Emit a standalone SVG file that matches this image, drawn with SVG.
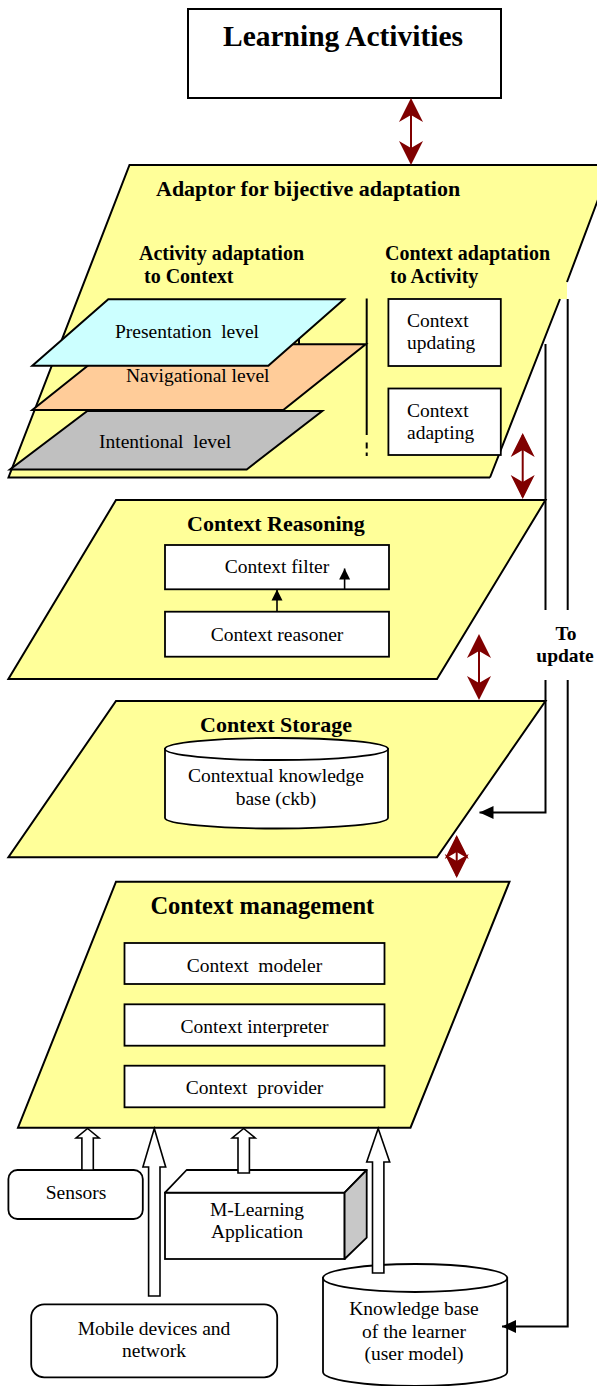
<svg xmlns="http://www.w3.org/2000/svg" width="597" height="1386" viewBox="0 0 597 1386">
<style>
.plane{fill:#FFFF99;stroke:none}
.edge{fill:none;stroke:#000;stroke-width:2}
.box{fill:#fff;stroke:#000;stroke-width:1.8}
.h{font-family:"Liberation Serif","Times New Roman",serif;font-weight:bold;fill:#000}
.t{font-family:"Liberation Serif","Times New Roman",serif;font-size:19.5px;fill:#000;white-space:pre}
.mid{text-anchor:middle}
.red{stroke:#800000;stroke-width:2;fill:none}
.ln{stroke:#000;stroke-width:2;fill:none}
.blk{stroke:#000;stroke-width:1.6;fill:none}
.barrow{fill:#fff;stroke:#000;stroke-width:1.6;stroke-linejoin:miter}
</style>
<defs>
<marker id="redHead" viewBox="-26 -13 28 26" refX="-2" refY="0" markerWidth="28" markerHeight="26" markerUnits="userSpaceOnUse" orient="auto-start-reverse">
<path d="M0,0 L-24,-12 L-17,0 L-24,12 Z" fill="#800000"/>
</marker>
<marker id="blkSmall" viewBox="-12 -6 13 12" refX="0" refY="0" markerWidth="13" markerHeight="12" markerUnits="userSpaceOnUse" orient="auto">
<path d="M0,0 L-11,-5.5 L-11,5.5 Z" fill="#000"/>
</marker>
<marker id="blkBig" viewBox="-15 -7 16 14" refX="0" refY="0" markerWidth="16" markerHeight="14" markerUnits="userSpaceOnUse" orient="auto">
<path d="M0,0 L-14,-6.5 L-14,6.5 Z" fill="#000"/>
</marker>
</defs>
<rect width="597" height="1386" fill="#fff"/>

<g id="learning-activities">
<rect x="188" y="9" width="313" height="89" fill="#fff" stroke="#000" stroke-width="2"/>
<text class="h" x="223" y="46" font-size="29.5">Learning Activities</text>
</g>

<g id="adaptor">
<polygon class="plane" points="8.5,477.5 129.5,165 611,165 567,282 567,299 560,299 490,477.5"/>
<path class="edge" d="M490,477.5 L8.5,477.5 L129.5,165 L611,165 L567,282 M560,299 L490,477.5"/>
<text class="h" x="156" y="196" font-size="22">Adaptor for bijective adaptation</text>
<text class="h" x="139" y="260" font-size="20">Activity adaptation</text>
<text class="h" x="144" y="283" font-size="20">to Context</text>
<text class="h" x="385" y="260" font-size="20">Context adaptation</text>
<text class="h" x="390" y="283" font-size="20">to Activity</text>
<line class="ln" x1="366.7" y1="298.5" x2="366.7" y2="435"/>
<line class="ln" x1="366.7" y1="442.5" x2="366.7" y2="448.5"/>
<line class="ln" x1="366.7" y1="452.5" x2="366.7" y2="456"/>
</g>

<g id="intentional-level">
<polygon points="87.3,411 322.3,411 246.7,469.5 10,469.5" fill="#C0C0C0" stroke="#000" stroke-width="2"/>
<text class="t" x="99" y="448">Intentional  level</text>
</g>
<g id="navigational-level">
<polygon points="114.7,344.3 365.7,344.3 283.3,410 32.3,410" fill="#FFCC99" stroke="#000" stroke-width="2"/>
<line class="ln" x1="299" y1="339" x2="299" y2="344.3"/>
<text class="t" x="126" y="382">Navigational level</text>
</g>
<g id="presentation-level">
<polygon points="108.3,299.3 344,299.3 268.3,365.7 32.3,365.7" fill="#CCFFFF" stroke="#000" stroke-width="2"/>
<text class="t" x="115" y="338">Presentation  level</text>
</g>

<g id="context-updating">
<rect class="box" x="388.4" y="299" width="112.4" height="67"/>
<text class="t" x="407" y="327">Context</text>
<text class="t" x="407" y="349">updating</text>
</g>
<g id="context-adapting">
<rect class="box" x="388.4" y="388.5" width="112.4" height="66.5"/>
<text class="t" x="407" y="417">Context</text>
<text class="t" x="407" y="439">adapting</text>
</g>

<g id="context-reasoning">
<polygon class="plane" points="116,500 545.5,500 437,679 8.4,679"/>
<polygon class="edge" points="116,500 545.5,500 437,679 8.4,679"/>
<text class="h" x="187" y="531" font-size="22">Context Reasoning</text>
</g>
<g id="context-filter">
<rect class="box" x="165" y="545" width="224" height="44.3"/>
<text class="t mid" x="277" y="573">Context filter</text>
</g>
<g id="context-reasoner">
<rect class="box" x="165" y="611.7" width="224" height="45"/>
<text class="t mid" x="277" y="641">Context reasoner</text>
</g>

<g id="context-storage">
<polygon class="plane" points="116,701 545.5,701 437,857.3 8.4,857.3"/>
<polygon class="edge" points="116,701 545.5,701 437,857.3 8.4,857.3"/>
<text class="h" x="200" y="732" font-size="22">Context Storage</text>
</g>
<g id="ckb">
<path d="M165,749 V818 A111.5,10.5 0 0 0 388,818 V749 Z" fill="#fff" stroke="#000" stroke-width="1.8"/>
<ellipse cx="276.5" cy="749" rx="111.5" ry="11" fill="#fff" stroke="#000" stroke-width="1.8"/>
<text class="t mid" x="276" y="782">Contextual knowledge</text>
<text class="t mid" x="276" y="805">base (ckb)</text>
</g>

<g id="context-management">
<polygon class="plane" points="116,881.7 509.5,881.7 410.5,1127.7 18,1127.7"/>
<polygon class="edge" points="116,881.7 509.5,881.7 410.5,1127.7 18,1127.7"/>
<text class="h" x="150.4" y="914" font-size="24.5">Context management</text>
</g>
<g id="context-modeler">
<rect class="box" x="124.5" y="943" width="260" height="41"/>
<text class="t mid" x="254.5" y="972">Context  modeler</text>
</g>
<g id="context-interpreter">
<rect class="box" x="124.5" y="1004.3" width="260" height="41.4"/>
<text class="t mid" x="254.5" y="1033">Context interpreter</text>
</g>
<g id="context-provider">
<rect class="box" x="124.5" y="1065.7" width="260" height="41.6"/>
<text class="t mid" x="254.5" y="1094">Context  provider</text>
</g>

<g id="sensors">
<rect class="box" x="8.4" y="1170" width="134.4" height="49" rx="9"/>
<text class="t mid" x="76" y="1199">Sensors</text>
</g>
<g id="m-learning">
<rect class="box" x="165" y="1192.7" width="179.6" height="66.3"/>
<polygon points="165,1192.7 186.6,1170 366.7,1170 344.6,1192.7" fill="#fff" stroke="#000" stroke-width="1.8" stroke-linejoin="round"/>
<polygon points="344.6,1192.7 366.7,1170 366.7,1237.7 344.6,1259" fill="#C8C8C8" stroke="#000" stroke-width="1.8" stroke-linejoin="round"/>
<text class="t mid" x="257" y="1216">M-Learning</text>
<text class="t mid" x="257" y="1238">Application</text>
</g>
<g id="mobile-devices">
<rect class="box" x="31.2" y="1304.3" width="246" height="73" rx="13"/>
<text class="t mid" x="154" y="1335">Mobile devices and</text>
<text class="t mid" x="154" y="1357">network</text>
</g>
<g id="learner-kb">
<path d="M323,1278 V1372 A92.1,14 0 0 0 507.2,1372 V1278 Z" fill="#fff" stroke="#000" stroke-width="1.8"/>
<ellipse cx="415.1" cy="1278" rx="92.1" ry="14" fill="#fff" stroke="#000" stroke-width="1.8"/>
<text class="t mid" x="414" y="1315">Knowledge base</text>
<text class="t mid" x="414" y="1338">of the learner</text>
<text class="t mid" x="414" y="1360">(user model)</text>
</g>

<g id="connectors">
<line class="red" x1="411" y1="100" x2="411" y2="163" marker-start="url(#redHead)" marker-end="url(#redHead)"/>
<line class="red" x1="522.7" y1="435" x2="522.7" y2="497" marker-start="url(#redHead)" marker-end="url(#redHead)"/>
<line class="red" x1="479" y1="636" x2="479" y2="698" marker-start="url(#redHead)" marker-end="url(#redHead)"/>
<line class="red" x1="456.7" y1="837" x2="456.7" y2="876" marker-start="url(#redHead)" marker-end="url(#redHead)"/>

<line class="blk" x1="277" y1="611.7" x2="277" y2="589.5" marker-end="url(#blkSmall)"/>
<line class="blk" x1="344.6" y1="589" x2="344.6" y2="568.5" marker-end="url(#blkSmall)"/>

<line class="ln" x1="545.5" y1="344" x2="545.5" y2="610"/>
<line class="ln" x1="567.7" y1="299" x2="567.7" y2="610"/>
<path class="ln" d="M545.5,680 V812.5 H479.5" marker-end="url(#blkBig)"/>
<path class="ln" d="M567.7,680 V1326.5 H502" marker-end="url(#blkBig)"/>
<text class="h mid" x="566" y="640" font-size="19.5">To</text>
<text class="h mid" x="565" y="662" font-size="19.5">update</text>

<polygon class="barrow" points="87.6,1128.5 99.1,1138 93.3,1138 93.3,1170 81.9,1170 81.9,1138 76.1,1138"/>
<polygon class="barrow" points="154.3,1128.5 165.7,1167 160,1167 160,1296 148.6,1296 148.6,1167 142.9,1167"/>
<polygon class="barrow" points="243.7,1128.5 255.2,1138 249.4,1138 249.4,1173 238,1173 238,1138 232.2,1138"/>
<polygon class="barrow" points="378.2,1128.5 389.7,1162 383.9,1162 383.9,1273 372.5,1273 372.5,1162 366.7,1162"/>
</g>
</svg>
